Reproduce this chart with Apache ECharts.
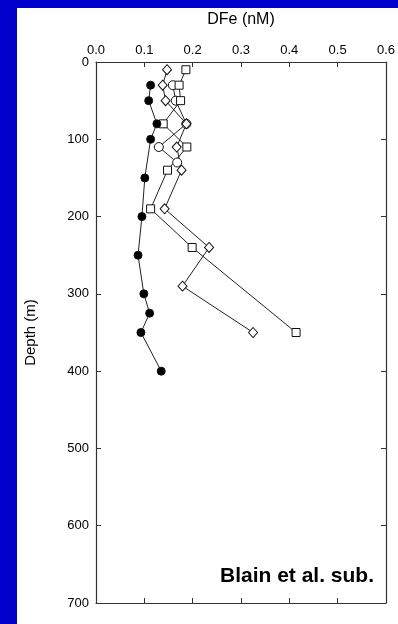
<!DOCTYPE html>
<html>
<head>
<meta charset="utf-8">
<script src="https://cdn.jsdelivr.net/npm/echarts@6/dist/echarts.min.js"></script>
<style>html,body{margin:0;padding:0;background:#0000cc;}#c{width:398px;height:624px;}</style>
</head>
<body>
<div id="c"></div>
<script>
// Data
var xTicks = [0.0, 0.1, 0.2, 0.3, 0.4, 0.5, 0.6];
var yTicks = [0, 100, 200, 300, 400, 500, 600, 700];

var depthFilled = [30, 50, 80, 100, 150, 200, 250, 300, 325, 350, 400];
var dfeFilled   = [0.113, 0.109, 0.126, 0.113, 0.101, 0.095, 0.087, 0.099, 0.111, 0.093, 0.135];

var depthSquare = [10, 30, 50, 80, 110, 140, 190, 240, 350];
var dfeSquare   = [0.186, 0.172, 0.175, 0.139, 0.188, 0.148, 0.113, 0.199, 0.414];

var depthDiamond = [10, 30, 50, 80, 110, 140, 190, 240, 290, 350];
var dfeDiamond   = [0.147, 0.138, 0.144, 0.187, 0.167, 0.177, 0.142, 0.234, 0.179, 0.325];

var depthOpenCircle = [30, 50, 80, 110, 130];
var dfeOpenCircle   = [0.159, 0.165, 0.187, 0.130, 0.168];

function pairs(xs, ys) { return xs.map(function (x, i) { return [x, ys[i]]; }); }

var FONT = '"Liberation Sans", Arial, sans-serif';
var AX = '#333333';

function lineSeries(name, xs, ys, symbol, size, fill) {
  return {
    name: name,
    type: 'line',
    xAxisIndex: 0,
    yAxisIndex: 0,
    data: pairs(xs, ys),
    symbol: symbol,
    symbolSize: size,
    showAllSymbol: true,
    animation: false,
    lineStyle: { color: '#222222', width: 1 },
    itemStyle: { color: fill, borderColor: '#111111', borderWidth: 1 },
    z: 3
  };
}

function axisCommon(extra) {
  var base = {
    type: 'value',
    axisLine: { show: true, onZero: false, lineStyle: { color: AX, width: 1.2 } },
    axisTick: { show: true, inside: true, length: 5, lineStyle: { color: AX } },
    splitLine: { show: false }
  };
  for (var k in extra) base[k] = extra[k];
  return base;
}

var chart = echarts.init(document.getElementById('c'), null, { renderer: 'canvas' });
chart.setOption({
  backgroundColor: '#0000cc',
  animation: false,
  textStyle: { fontFamily: FONT },
  graphic: [
    { type: 'rect', left: 17, top: 8, shape: { width: 381, height: 616 }, style: { fill: '#ffffff' }, z: -10 },
    { type: 'text', right: 24, top: 566, style: { text: 'Blain et al. sub.', font: 'bold 21px ' + FONT, fill: '#000000' }, z: 10 }
  ],
  grid: { left: 96, top: 62, right: 11, bottom: 21, containLabel: false },
  xAxis: [
    axisCommon({
      position: 'top', min: 0, max: 0.6, interval: 0.1,
      name: 'DFe (nM)', nameLocation: 'middle', nameGap: 34,
      nameTextStyle: { fontSize: 16, color: '#000', fontFamily: FONT },
      axisLabel: { show: true, fontSize: 13, color: '#000', margin: 5, fontFamily: FONT,
                   formatter: function (v) { return v.toFixed(1); } }
    }),
    axisCommon({
      position: 'bottom', min: 0, max: 0.6, interval: 0.1,
      axisLabel: { show: false }
    })
  ],
  yAxis: [
    axisCommon({
      position: 'left', inverse: true, min: 0, max: 700, interval: 100,
      name: 'Depth (m)', nameLocation: 'middle', nameGap: 58,
      nameTextStyle: { fontSize: 15, color: '#000', fontFamily: FONT },
      axisLabel: { show: true, fontSize: 13, color: '#000', margin: 7, fontFamily: FONT }
    }),
    axisCommon({
      position: 'right', inverse: true, min: 0, max: 700, interval: 100,
      axisLabel: { show: false }
    })
  ],
  series: [
    lineSeries('open circle', dfeOpenCircle, depthOpenCircle, 'circle', 9, '#ffffff'),
    lineSeries('open square', dfeSquare, depthSquare, 'rect', 8, '#ffffff'),
    lineSeries('open diamond', dfeDiamond, depthDiamond, 'diamond', [9, 10], '#ffffff'),
    lineSeries('filled circle', dfeFilled, depthFilled, 'circle', 8, '#000000')
  ]
});
</script>
</body>
</html>
